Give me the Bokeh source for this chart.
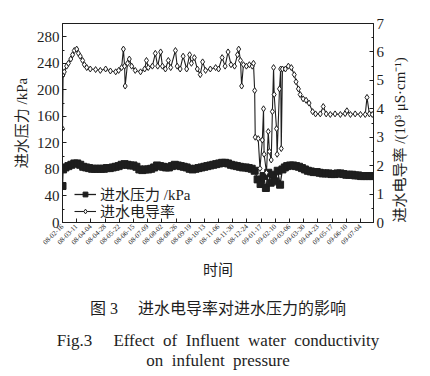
import math
import pandas as pd
from bokeh.plotting import figure
from bokeh.models import (LinearAxis, Range1d, FixedTicker, DatetimeTickFormatter,
                          Legend, LegendItem, Title)
from bokeh.embed import file_html
from bokeh.resources import INLINE

# ---------------- data ----------------
start_date = "2008-02-16"

cond_day = [0, 1, 3, 7, 10, 14, 17, 20, 24, 27, 30, 34, 37, 41, 47, 56, 64, 73, 81, 90,
            95, 100, 103, 105, 106, 110, 113, 117, 123, 132, 139, 142, 145, 152, 157, 161,
            166, 169, 174, 179, 183, 191, 194, 199, 204, 210, 215, 218, 223, 228, 233, 237,
            242, 250, 259, 264, 270, 275, 280, 285, 291, 296, 298, 301, 303, 306, 311, 316,
            321, 323, 325, 326, 331, 334, 338, 340, 341, 345, 348, 350, 353, 355, 357, 358,
            362, 363, 367, 369, 370, 372, 377, 382, 387, 392, 395, 399, 402, 407, 412, 417,
            423, 428, 436, 441, 446, 453, 461, 470, 478, 481, 487, 495, 504, 512, 515, 519, 524]
cond_val = [3.3, 5.2, 5.3, 5.5, 5.6, 5.75, 5.9, 6.05, 6.1, 5.95, 5.85, 5.7, 5.55, 5.45, 5.4,
            5.38, 5.35, 5.4, 5.33, 5.3, 5.35, 5.45, 6.1, 5.5, 4.8, 5.6, 5.75, 5.5, 5.35, 5.3,
            5.4, 5.7, 5.45, 5.5, 5.95, 5.5, 6.0, 5.5, 5.4, 5.7, 5.45, 6.05, 5.5, 5.4, 5.85,
            5.4, 5.9, 5.6, 5.8, 5.4, 5.2, 5.65, 5.35, 5.4, 5.45, 5.4, 5.8, 5.5, 6.0, 5.55,
            5.5, 5.9, 6.1, 5.7, 4.8, 5.55, 5.5, 5.55, 5.5, 5.6, 4.64, 3.0, 2.95, 1.9, 2.9,
            4.0, 2.4, 1.75, 3.2, 2.5, 2.2, 3.9, 5.45, 4.5, 3.3, 2.4, 4.7, 5.4, 2.6, 5.4,
            5.4, 5.5, 5.45, 5.2, 4.95, 4.7, 4.5, 4.35, 4.3, 4.2, 3.9, 3.82, 3.82, 4.08, 3.82,
            3.8, 3.82, 3.8, 3.83, 3.93, 3.8, 3.82, 3.8, 3.8, 4.4, 3.82, 3.8]

pres_day = [0, 1, 5, 10, 15, 20, 25, 30, 35, 40, 45, 50, 55, 60, 65, 70, 75, 80, 85, 90,
            95, 100, 105, 110, 115, 120, 125, 130, 135, 140, 145, 150, 155, 160, 165, 170,
            175, 180, 185, 190, 195, 200, 205, 210, 215, 220, 225, 230, 235, 240, 245, 250,
            255, 260, 265, 270, 275, 280, 285, 290, 295, 300, 305, 310, 315, 320, 325,
            330, 335, 340, 344, 348, 352, 356, 360, 364, 368,
            372, 376, 380, 385, 390, 395, 400, 405, 410, 415, 420, 425, 430, 435, 440, 445,
            450, 455, 460, 465, 470, 475, 480, 485, 490, 495, 500, 505, 510, 515, 520, 525]
pres_val = [55, 80, 83, 85, 87, 89, 89, 87, 84, 83, 82, 81, 81, 81, 81, 81, 82, 82, 83, 84,
            85, 87, 88, 87, 86, 86, 84, 80, 79, 80, 80, 81, 83, 86, 85, 84,
            83, 83, 85, 87, 86, 85, 84, 83, 81, 80, 81, 82, 83, 84, 85, 86,
            87, 88, 89, 90, 90, 89, 87, 86, 85, 84, 83, 83, 82, 81, 78,
            65, 58, 70, 52, 75, 60, 72, 62, 78, 57,
            80, 83, 85, 86, 86, 85, 84, 82, 80, 78, 77, 76, 76, 75, 74, 74,
            74, 73, 73, 74, 74, 73, 72, 72, 72, 71, 71, 70, 70, 70, 70, 70]

tick_labels = ["08-02-16", "08-03-11", "08-04-04", "08-04-28", "08-05-22", "08-06-15",
               "08-07-09", "08-08-02", "08-08-26", "08-09-19", "08-10-13", "08-11-06",
               "08-11-30", "08-12-24", "09-01-17", "09-02-10", "09-03-06", "09-03-30",
               "09-04-23", "09-05-17", "09-06-10", "09-07-04"]
left_ticks = [0, 40, 80, 120, 160, 200, 240, 280]
right_ticks = [0, 1, 2, 3, 4, 5, 6, 7]

SERIF = "'Liberation Serif', 'Noto Sans CJK SC'"
INK = "#1e1e1e"
NB = "\u00a0"
t0 = pd.Timestamp(start_date)


def ms(ts):
    return ts.value / 1e6


cond_x = [ms(t0 + pd.Timedelta(days=d)) for d in cond_day]
pres_x = [ms(t0 + pd.Timedelta(days=d)) for d in pres_day]
xticks = [ms(pd.Timestamp("20" + s)) for s in tick_labels]

p = figure(width=430, height=376, x_axis_type="datetime",
           x_range=Range1d(ms(t0), ms(t0 + pd.Timedelta(days=526))),
           y_range=Range1d(0, 300),
           output_backend="svg", toolbar_location=None,
           min_border_left=62, min_border_right=57, min_border_top=23,
           min_border_bottom=154)
p.extra_y_ranges = {"cond": Range1d(0, 7)}
p.xgrid.visible = False
p.ygrid.visible = False
p.outline_line_color = INK
p.background_fill_color = "white"
p.border_fill_color = "white"

xa = p.xaxis[0]
xa.ticker = FixedTicker(ticks=xticks)
fmt = "%y-%m-%d"
xa.formatter = DatetimeTickFormatter(days=fmt, months=fmt, years=fmt, hours=fmt,
                                     hourmin=fmt, minutes=fmt, minsec=fmt, seconds=fmt,
                                     milliseconds=fmt, microseconds=fmt)
xa.major_label_orientation = math.pi / 4
xa.major_label_text_font_size = "7px"
xa.major_label_text_font = SERIF
xa.axis_label = "时间"
xa.axis_label_text_font = SERIF
xa.axis_label_text_font_size = "15px"
xa.axis_label_text_font_style = "normal"

ya = p.yaxis[0]
ya.ticker = FixedTicker(ticks=left_ticks, minor_ticks=[20, 60, 100, 140, 180, 220, 260, 300])
ya.axis_label = "进水压力 /kPa"

ra = LinearAxis(y_range_name="cond",
                ticker=FixedTicker(ticks=right_ticks,
                                   minor_ticks=[0.5, 1.5, 2.5, 3.5, 4.5, 5.5, 6.5]),
                axis_label="进水电导率 /(10³ μS·cm⁻¹)")
p.add_layout(ra, "right")

for ax in (xa, ya, ra):
    ax.axis_line_color = INK
    ax.major_tick_line_color = INK
    ax.minor_tick_line_color = INK
    ax.major_tick_in = 4
    ax.major_tick_out = 0
    ax.minor_tick_in = 2
    ax.minor_tick_out = 0
    ax.major_label_text_color = INK
    ax.axis_label_text_color = INK
    ax.major_label_standoff = 3
for ax in (ya, ra):
    ax.major_label_text_font = SERIF
    ax.major_label_text_font_size = "15px"
    ax.axis_label_text_font = SERIF
    ax.axis_label_text_font_size = "15px"
    ax.axis_label_text_font_style = "normal"
    ax.axis_label_standoff = 4
xa.axis_label_standoff = 13
# right-axis title reads bottom-to-top, starting near the bottom of the axis
ra.axis_label_orientation = math.pi / 2
ra.axis_label_align = "start"
ra.axis_label_standoff = 13

pl = p.line(pres_x, pres_val, line_color=INK, line_width=1.3)
ps = p.scatter(pres_x, pres_val, marker="square", size=7, fill_color=INK, line_color=INK)
cl = p.line(cond_x, cond_val, line_color=INK, line_width=1.1, y_range_name="cond")
cs = p.scatter(cond_x, cond_val, marker="diamond", size=6, fill_color="white",
               line_color=INK, line_width=1, y_range_name="cond")

legend_items = [("进水压力 /kPa", [pl, ps], 17), ("进水电导率", [cl, cs], 0)]
for label, rends, ypos in legend_items:
    lg = Legend(items=[LegendItem(label=label, renderers=rends)],
                location=(11, ypos), background_fill_alpha=0, border_line_alpha=0,
                label_text_font=SERIF, label_text_font_size="15px",
                label_text_color=INK, glyph_width=22, glyph_height=12,
                spacing=0, padding=1, label_standoff=4)
    p.add_layout(lg)

captions = ["图" + NB + "3" + NB * 5 + "进水电导率对进水压力的影响",
            "Fig.3" + NB * 5 + "Effect" + NB * 2 + "of" + NB * 2 + "Influent" + NB * 2
            + "water" + NB * 2 + "conductivity",
            "on" + NB * 2 + "infulent" + NB * 2 + "pressure"]
sizes = ["16px", "17px", "17px"]
standoffs = [32, -7, 5]
for c, s, so in zip(captions, sizes, standoffs):
    t = Title(text=c, align="center", text_font=SERIF, text_font_size=s,
              text_font_style="normal", text_color=INK, offset=0, standoff=so)
    p.add_layout(t, "below")

open("out.html", "w").write(file_html(p, INLINE))
